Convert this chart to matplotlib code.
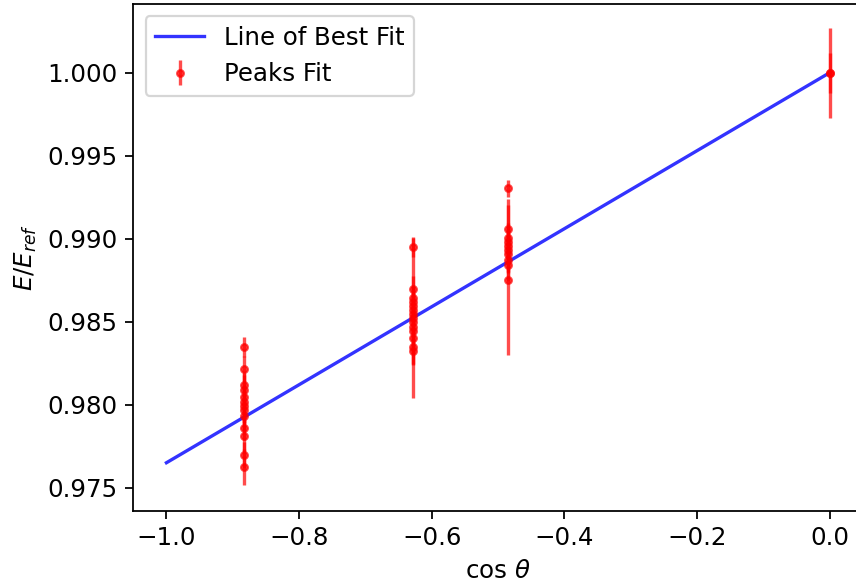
import numpy as np
import matplotlib
matplotlib.use("Agg")
import matplotlib.pyplot as plt

plt.rcParams['font.size'] = 11

# peak positions, one group per angle
cos_groups = [-0.883, -0.629, -0.485, 0.0]

ratio_883 = [0.98350, 0.98215, 0.98119, 0.98089, 0.98047, 0.98016, 0.97992,
             0.97968, 0.97932, 0.97860, 0.97812, 0.97697, 0.97625]
err_883 = [0.0006, 0.0008, 0.0007, 0.0009, 0.0008, 0.0007, 0.0010,
           0.0008, 0.0009, 0.0007, 0.0010, 0.0008, 0.0011]

ratio_629 = [0.98952, 0.98695, 0.98643, 0.98619, 0.98595, 0.98571, 0.98547,
             0.98522, 0.98498, 0.98468, 0.98444, 0.98402, 0.98348, 0.98324]
err_629 = [0.0006, 0.0008, 0.0007, 0.0009, 0.0008, 0.0010, 0.0007,
           0.0048, 0.0009, 0.0008, 0.0010, 0.0009, 0.0011, 0.0008]

ratio_485 = [0.99304, 0.99057, 0.99004, 0.98980, 0.98956, 0.98932,
             0.98908, 0.98872, 0.98842, 0.98751]
err_485 = [0.0005, 0.0018, 0.0009, 0.0008, 0.0010, 0.0009,
           0.0011, 0.0008, 0.0010, 0.0045]

ratio_0 = [1.0, 1.0]
err_0 = [0.0027, 0.0012]

# line of best fit
fit_x = [-1.0, 0.0]
fit_slope = 0.0235
fit_intercept = 1.0

ratios = [ratio_883, ratio_629, ratio_485, ratio_0]
errs = [err_883, err_629, err_485, err_0]

x = np.concatenate([[c] * len(r) for c, r in zip(cos_groups, ratios)])
y = np.concatenate(ratios)
yerr = np.concatenate(errs)

fig = plt.figure(figsize=(5.35, 3.65), dpi=160)
ax = fig.add_axes([0.1557, 0.1255, 0.8523, 0.8677])

fx = np.array(fit_x)
ax.plot(fx, fit_slope * fx + fit_intercept, color='blue', alpha=0.8,
        label='Line of Best Fit')
ax.errorbar(x, y, yerr=yerr, fmt='.', color='red', alpha=0.7,
            label='Peaks Fit')

ax.set_xlim(-1.05, 0.05)
ax.set_ylim(0.97361, 1.00414)
ax.set_xlabel(r'$\cos\,\theta$')
ax.set_ylabel(r'$E/E_{ref}$')
ax.legend(loc='upper left')

fig.savefig('out.png', dpi=160)
